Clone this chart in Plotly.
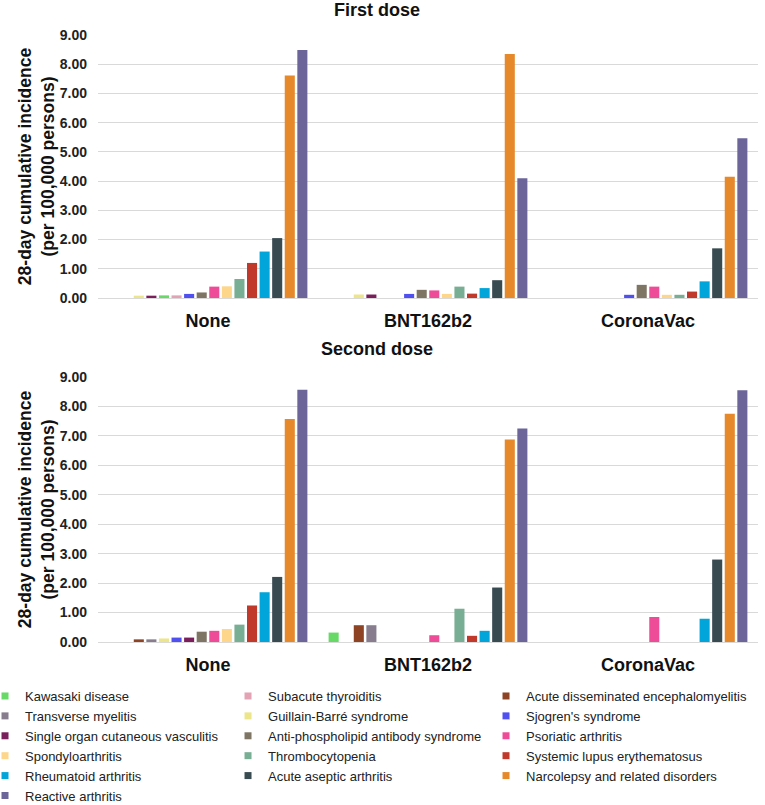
import plotly.graph_objects as go

# ---------------- data ----------------
vaccines = ["None", "BNT162b2", "CoronaVac"]

diseases = [
    "Kawasaki disease", "Subacute thyroiditis", "Acute disseminated encephalomyelitis",
    "Transverse myelitis", "Guillain-Barré syndrome", "Sjogren's syndrome",
    "Single organ cutaneous vasculitis", "Anti-phospholipid antibody syndrome", "Psoriatic arthritis",
    "Spondyloarthritis", "Thrombocytopenia", "Systemic lupus erythematosus",
    "Rheumatoid arthritis", "Acute aseptic arthritis", "Narcolepsy and related disorders",
    "Reactive arthritis",
]

colors = [
    "#66d966", "#e3a3b4", "#8e4424", "#877d8f", "#ede58a", "#5050f0",
    "#7a1f5c", "#7e7565", "#ee4b99", "#fdd68b", "#78ae93", "#c0392b",
    "#02a5d9", "#384b51", "#e5892a", "#6b6599",
]

# values in legend order, [None, BNT162b2, CoronaVac]
first_none = [0.09, 0.09, 0.00, 0.00, 0.08, 0.14, 0.08, 0.19, 0.39, 0.40, 0.65, 1.20, 1.59, 2.05, 7.61, 8.49]
first_bnt  = [0.00, 0.00, 0.00, 0.00, 0.12, 0.14, 0.12, 0.28, 0.26, 0.14, 0.39, 0.15, 0.34, 0.61, 8.35, 4.10]
first_cor  = [0.00, 0.00, 0.00, 0.00, 0.00, 0.11, 0.00, 0.45, 0.39, 0.11, 0.11, 0.22, 0.57, 1.70, 4.15, 5.47]

second_none = [0.00, 0.00, 0.09, 0.09, 0.12, 0.15, 0.15, 0.35, 0.38, 0.44, 0.59, 1.24, 1.69, 2.21, 7.57, 8.57]
second_bnt  = [0.32, 0.00, 0.57, 0.57, 0.00, 0.00, 0.00, 0.00, 0.23, 0.00, 1.13, 0.21, 0.38, 1.85, 6.88, 7.25]
second_cor  = [0.00, 0.00, 0.00, 0.00, 0.00, 0.00, 0.00, 0.00, 0.85, 0.00, 0.00, 0.00, 0.79, 2.80, 7.75, 8.55]

# bar order inside each group of the first-dose panel
first_order = [
    "Acute disseminated encephalomyelitis", "Transverse myelitis", "Guillain-Barré syndrome",
    "Single organ cutaneous vasculitis", "Kawasaki disease", "Subacute thyroiditis",
    "Sjogren's syndrome", "Anti-phospholipid antibody syndrome", "Psoriatic arthritis",
    "Spondyloarthritis", "Thrombocytopenia", "Systemic lupus erythematosus",
    "Rheumatoid arthritis", "Acute aseptic arthritis", "Narcolepsy and related disorders",
    "Reactive arthritis",
]

FONT = "Liberation Sans, Arial, sans-serif"
legend_ids = ["legend", "legend2", "legend3"]

fig = go.Figure()

# first dose panel (top)
for name in first_order:
    i = diseases.index(name)
    fig.add_trace(go.Bar(
        x=vaccines, y=[first_none[i], first_bnt[i], first_cor[i]],
        name=name, marker_color=colors[i], marker_line_width=0,
        showlegend=False, xaxis="x", yaxis="y",
    ))

# second dose panel (bottom)
for i, name in enumerate(diseases):
    fig.add_trace(go.Bar(
        x=vaccines, y=[second_none[i], second_bnt[i], second_cor[i]],
        name=name, marker_color=colors[i], marker_line_width=0,
        showlegend=False, xaxis="x2", yaxis="y2",
    ))

# legend entries with small square symbols (three columns, filled row by row)
for i, name in enumerate(diseases):
    fig.add_trace(go.Scatter(
        x=[None], y=[None], mode="markers", name=name,
        marker=dict(symbol="square", size=7, color=colors[i]),
        xaxis="x2", yaxis="y2", showlegend=True, legend=legend_ids[i % 3],
    ))

yax = dict(
    range=[0, 9], dtick=1, tickformat=".2f",
    tickfont=dict(family=FONT, size=14, color="#222", weight="bold"),
    showgrid=True, gridcolor="#d9d9d9", gridwidth=1.3,
    zeroline=True, zerolinecolor="#d9d9d9", zerolinewidth=1.3,
    showline=False, ticks="", ticklabelstandoff=10,
    title=dict(text="28-day cumulative incidence<br>(per 100,000 persons)",
               font=dict(family=FONT, size=17.5, color="#111", weight="bold"), standoff=0),
)
xax = dict(
    showgrid=False, showline=False, ticks="", ticklabelstandoff=10,
    tickfont=dict(family=FONT, size=18, color="#111", weight="bold"),
)

leg_common = dict(
    orientation="v", xref="paper", yref="paper", y=-0.0643,
    xanchor="left", yanchor="top", tracegroupgap=0,
    font=dict(family=FONT, size=13, color="#222"),
    itemclick=False, bgcolor="rgba(0,0,0,0)",
)

fig.update_layout(
    width=765, height=805,
    margin=dict(l=98, r=7, t=35, b=163, autoexpand=False),
    paper_bgcolor="white", plot_bgcolor="white",
    barmode="group", bargap=0.085, bargroupgap=0.2,
    font=dict(family=FONT, color="#111"),
    xaxis=dict(domain=[0, 1], anchor="y", **xax),
    yaxis=dict(domain=[0.5667, 1], anchor="x", **yax),
    xaxis2=dict(domain=[0, 1], anchor="y2", **xax),
    yaxis2=dict(domain=[0, 0.4366], anchor="x2", **yax),
    legend=dict(x=-0.1712, **leg_common),
    legend2=dict(x=0.197, **leg_common),
    legend3=dict(x=0.5879, **leg_common),
    annotations=[
        dict(text="First dose", xref="paper", yref="paper", x=0.4227, y=1.042,
             xanchor="center", yanchor="middle", showarrow=False,
             font=dict(family=FONT, size=18, color="#111", weight="bold")),
        dict(text="Second dose", xref="paper", yref="paper", x=0.4227, y=0.4819,
             xanchor="center", yanchor="middle", showarrow=False,
             font=dict(family=FONT, size=18, color="#111", weight="bold")),
    ],
)

fig.write_html("out.html", config={"displayModeBar": False},
               post_script="document.body.style.margin='0';")
